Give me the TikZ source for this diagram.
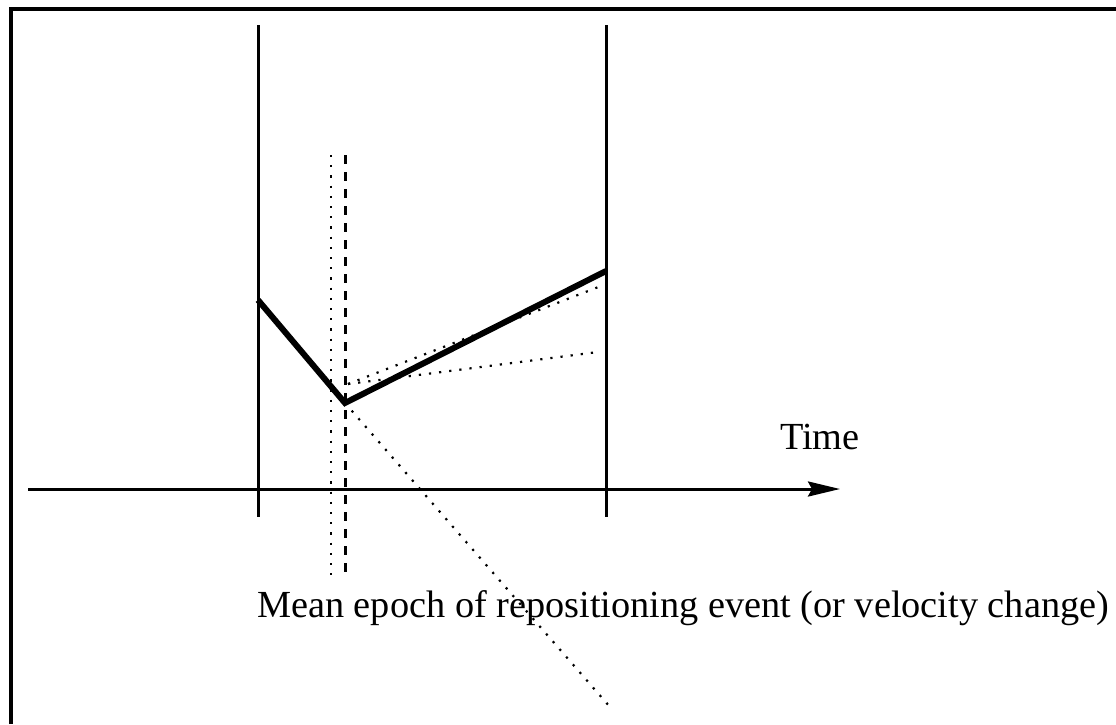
\documentclass[tikz,border=0pt]{standalone}
\usepackage{fontspec}
\setmainfont{Liberation Serif}
\usetikzlibrary{arrows.meta}

\begin{document}
\begin{tikzpicture}[
    x=1pt, y=-1pt,
    >={Stealth[length=32pt,width=15pt,inset=4pt]},
    every node/.style={font=\fontsize{38.3}{42}\selectfont, inner sep=0pt},
    frame/.style={line width=3.2pt},
    epoch/.style={line width=3pt},
    axis/.style={->, line width=3pt},
    track/.style={line width=6pt, line join=miter},
    spread/.style={line width=2.2pt, dash pattern=on 2.2pt off 8pt},
    meanline/.style={line width=3pt, dash pattern=on 9pt off 8pt}
]
\useasboundingbox (0,0) rectangle (1116,724);

% frame, open to the right and below
\draw[frame] (11,724) |- (1116,9);

% epochs and time axis
\coordinate (t0top) at (258,25);
\coordinate (t0bot) at (258,517);
\coordinate (t1top) at (606,25);
\coordinate (t1bot) at (606,517);
\coordinate (axstart) at (28,489);
\coordinate (axend) at (840,489);
\draw[epoch] (t0top) -- (t0bot);
\draw[epoch] (t1top) -- (t1bot);
\draw[axis] (axstart) -- (axend);
\node (time) at (820,437) {Time};

% mean epoch and its spread
\coordinate (spreadtop) at (331,155);
\coordinate (spreadbot) at (331,575);
\coordinate (meantop) at (345,155);
\coordinate (meanbot) at (345,575);
\draw[spread] (spreadtop) -- (spreadbot);
\draw[meanline] (meantop) -- (meanbot);

% track with change of position
\coordinate (start) at (258,300);
\coordinate (jump) at (345,403);
\coordinate (finish) at (606,271);
\coordinate (fork) at (348,384);
\coordinate (upper) at (601,286);
\coordinate (lower) at (598,352);
\coordinate (down) at (610,707);
\draw[spread] (fork) -- (upper);
\draw[spread] (fork) -- (lower);
\draw[spread] (jump) -- (down);
\draw[track] (start) -- (jump) -- (finish);

\node[anchor=west] (label) at (257,608) {Mean epoch of repositioning event (or velocity change)};
\end{tikzpicture}
\end{document}
